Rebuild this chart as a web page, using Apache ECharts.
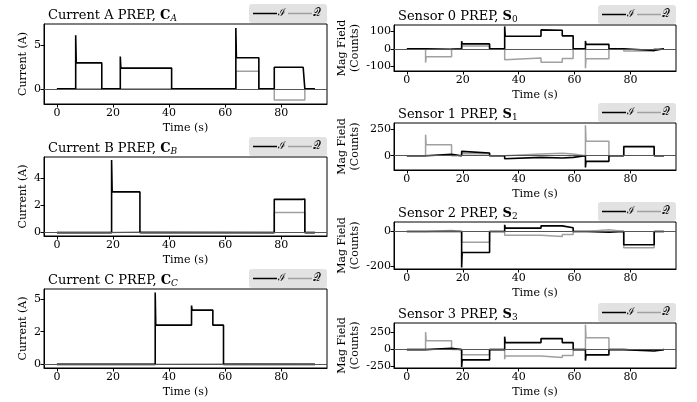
<!DOCTYPE html>
<html>
<head>
<meta charset="utf-8">
<script src="https://cdn.jsdelivr.net/npm/echarts@6/dist/echarts.min.js"></script>
<style>
html, body { margin: 0; padding: 0; background: #fff; }
#main { width: 697px; height: 402px; }
</style>
</head>
<body>
<div id="main"></div>
<script>
// shared time axis
var timeTicks = [0, 20, 40, 60, 80];
var timeRange = [-4.6, 96.3];

// Current A (A), [t, value] corner points
var curA_I = [[0,0],[6.7,0],[6.7,6.2],[6.9,3.0],[16,3.0],[16,0],[22.6,0],[22.6,3.75],[22.8,2.4],[40.9,2.4],[40.9,0],[63.8,0],[63.8,7.05],[64.0,3.6],[72,3.6],[72,0],[77.5,0],[77.5,2.5],[87.8,2.5],[88,2.56],[88.4,2.5],[88.4,0],[92,0]];
var curA_Q = [[0,0],[63.8,0],[63.8,2.05],[72,2.05],[72,0],[77.5,0],[77.5,-1.3],[88.4,-1.3],[88.4,0],[92,0]];
var curA_ticks = [0, 5];

// Current B
var curB_I = [[0,0],[19.5,0],[19.5,5.35],[19.7,3.0],[29.6,3.0],[29.6,0],[77.5,0],[77.5,2.45],[87.5,2.45],[87.7,2.55],[88.4,2.47],[88.4,0],[92,0]];
var curB_Q = [[0,0],[19.5,0],[19.5,0.05],[29.6,0.05],[29.6,0],[77.5,0],[77.5,1.48],[88.4,1.48],[88.4,0],[92,0]];
var curB_ticks = [0, 2, 4];

// Current C
var curC_I = [[0,0],[35.05,0],[35.05,5.5],[35.25,3.0],[48,3.0],[48,4.5],[48.2,4.15],[55.6,4.15],[55.6,3.0],[59.4,3.0],[59.4,0],[92,0]];
var curC_Q = [[0,0],[35,0],[35,0.03],[59.4,0.03],[59.4,0],[92,0]];
var curC_ticks = [0, 2.5, 5];

// Sensor 0 (counts)
var s0_I = [[0,0],[6.7,0],[6.7,-3],[16,-3],[16,0],[19.6,0],[19.6,43],[19.8,28],[29.6,28],[29.6,0],[35,0],[35,128],[35.2,72],[48,72],[48,108],[48.2,106],[55.6,106],[55.6,74],[59.5,74],[59.5,0],[63.9,0],[63.9,45],[64.1,25],[72.3,25],[72.3,0],[77.6,0],[77.6,-10],[88.5,-10],[88.5,0],[92,0]];
var s0_Q = [[0,0],[6.7,0],[6.7,-79],[6.9,-45],[16,-45],[16,0],[19.6,0],[19.6,16],[29.6,16],[29.6,0],[35,0],[35,-62],[35.2,-53],[48,-53],[48,-77],[55.6,-77],[55.6,-55],[59.5,-55],[59.5,0],[63.9,0],[63.9,-111],[64.1,-57],[72.3,-57],[72.3,0],[77.6,0],[77.6,-12],[88.5,-12],[88.5,0],[92,0]];
var s0_ticks = [-100, 0, 100];

// Sensor 1
var s1_I = [[0,0],[6.7,0],[6.7,12],[16,12],[16,0],[19.6,0],[19.6,40],[19.8,25],[29.6,25],[29.6,0],[35,0],[35,-28],[35.2,-16],[48,-16],[48,-22],[55.6,-22],[55.6,-16],[59.5,-16],[59.5,0],[63.9,0],[63.9,-110],[64.1,-53],[72.3,-53],[72.3,0],[77.6,0],[77.6,84],[88.5,84],[88.5,0],[92,0]];
var s1_Q = [[0,0],[6.7,0],[6.7,197],[6.9,103],[16,103],[16,0],[19.6,0],[19.6,19],[29.6,19],[29.6,0],[35,0],[35,16],[48,16],[48,22],[55.6,22],[55.6,16],[59.5,16],[59.5,0],[63.9,0],[63.9,284],[64.1,134],[72.3,134],[72.3,0],[77.6,0],[77.6,91],[88.5,91],[88.5,0],[92,0]];
var s1_ticks = [0, 250];

// Sensor 2
var s2_I = [[0,0],[19.6,0],[19.6,-205],[19.8,-120],[29.6,-120],[29.6,0],[35,0],[35,38],[35.2,19],[48,19],[48,32],[55.6,32],[55.6,21],[59.5,21],[59.5,0],[63.9,0],[63.9,-4],[72.3,-4],[72.3,0],[77.6,0],[77.6,-76],[88.5,-76],[88.5,0],[92,0]];
var s2_Q = [[0,0],[6.7,0],[6.7,6],[16,6],[16,0],[19.6,0],[19.6,-61],[29.6,-61],[29.6,0],[35,0],[35,-21],[48,-21],[48,-29],[55.6,-29],[55.6,-17],[59.5,-17],[59.5,0],[63.9,0],[63.9,10],[72.3,10],[72.3,0],[77.6,0],[77.6,-93],[88.5,-93],[88.5,0],[92,0]];
var s2_ticks = [-200, 0];

// Sensor 3
var s3_I = [[0,0],[6.7,0],[6.7,20],[16,20],[16,0],[19.6,0],[19.6,-255],[19.8,-152],[29.6,-152],[29.6,0],[35,0],[35,191],[35.2,103],[48,103],[48,162],[55.6,162],[55.6,103],[59.5,103],[59.5,0],[63.9,0],[63.9,-162],[64.1,-78],[72.3,-78],[72.3,0],[77.6,0],[77.6,-20],[88.5,-20],[88.5,0],[92,0]];
var s3_Q = [[0,0],[6.7,0],[6.7,260],[6.9,132],[16,132],[16,0],[19.6,0],[19.6,-74],[29.6,-74],[29.6,0],[35,0],[35,-142],[35.2,-93],[48,-93],[48,-118],[55.6,-118],[55.6,-88],[59.5,-88],[59.5,0],[63.9,0],[63.9,368],[64.1,176],[72.3,176],[72.3,0],[77.6,0],[77.6,-15],[88.5,-15],[88.5,0],[92,0]];
var s3_ticks = [-250, 0, 250];

var nameI = 'ℐ', nameQ = '𝒬';
var colI = '#000', colQ = '#a0a0a0';

var panels = [
  { head: 'Current A PREP, ', sym: 'C', sub: 'A', yName: 'Current (A)', I: curA_I, Q: curA_Q, ticks: curA_ticks, yr: [-1.75, 7.5],  box: [44, 24, 283, 80] },
  { head: 'Current B PREP, ', sym: 'C', sub: 'B', yName: 'Current (A)', I: curB_I, Q: curB_Q, ticks: curB_ticks, yr: [-0.25, 5.57], box: [44, 157, 283, 79] },
  { head: 'Current C PREP, ', sym: 'C', sub: 'C', yName: 'Current (A)', I: curC_I, Q: curC_Q, ticks: curC_ticks, yr: [-0.28, 5.77], box: [44, 289, 283, 79] },
  { head: 'Sensor 0 PREP, ', sym: 'S', sub: '0', yName: 'Mag Field\n(Counts)', I: s0_I, Q: s0_Q, ticks: s0_ticks, yr: [-127, 136], box: [394, 25, 282, 46] },
  { head: 'Sensor 1 PREP, ', sym: 'S', sub: '1', yName: 'Mag Field\n(Counts)', I: s1_I, Q: s1_Q, ticks: s1_ticks, yr: [-134, 306], box: [394, 123, 282, 47] },
  { head: 'Sensor 2 PREP, ', sym: 'S', sub: '2', yName: 'Mag Field\n(Counts)', I: s2_I, Q: s2_Q, ticks: s2_ticks, yr: [-214, 54], box: [394, 222, 282, 47] },
  { head: 'Sensor 3 PREP, ', sym: 'S', sub: '3', yName: 'Mag Field\n(Counts)', I: s3_I, Q: s3_Q, ticks: s3_ticks, yr: [-271, 392], box: [394, 323, 282, 45] }
];

var FONT = 'DejaVu Serif';
var grids = [], xAxes = [], yAxes = [], series = [], titles = [], legends = [];

panels.forEach(function (p, i) {
  var l = p.box[0], t = p.box[1], w = p.box[2], h = p.box[3];
  var right = 697 - l - w;
  var isSensor = i >= 3;
  grids.push({ left: l, top: t, width: w, height: h, show: true, borderColor: '#000', borderWidth: 1, backgroundColor: 'transparent' });
  xAxes.push({
    type: 'value', gridIndex: i, min: timeRange[0], max: timeRange[1],
    name: 'Time (s)', nameLocation: 'middle', nameGap: 19,
    nameTextStyle: { fontFamily: FONT, fontSize: 11, color: '#000' },
    axisLine: { show: true, onZero: false, lineStyle: { color: '#000', width: 1 } },
    splitLine: { show: false },
    axisTick: { show: true, length: 3.5, lineStyle: { color: '#000' }, customValues: timeTicks },
    axisLabel: { fontFamily: FONT, fontSize: 11, color: '#000', margin: 4, customValues: timeTicks }
  });
  yAxes.push({
    type: 'value', gridIndex: i, min: p.yr[0], max: p.yr[1],
    name: p.yName, nameLocation: 'middle', nameGap: isSensor ? 32 : 14, nameRotate: 90,
    nameTextStyle: { fontFamily: FONT, fontSize: 11, color: '#000', lineHeight: 13 },
    axisLine: { show: true, onZero: false, lineStyle: { color: '#000', width: 1 } },
    splitLine: { show: false },
    axisTick: { show: true, length: 3.5, lineStyle: { color: '#000' }, customValues: p.ticks },
    axisLabel: { fontFamily: FONT, fontSize: 11, color: '#000', margin: 3, customValues: p.ticks,
      formatter: function (v) { return String(Math.trunc(v)); } }
  });
  series.push({
    name: nameQ, type: 'line', xAxisIndex: i, yAxisIndex: i, data: p.Q,
    symbol: 'none', silent: true, animation: false,
    lineStyle: { color: colQ, width: 1.5 }, itemStyle: { color: colQ },
    markLine: { silent: true, symbol: 'none', label: { show: false }, animation: false,
      lineStyle: { color: '#555', width: 1, type: 'solid' }, data: [{ yAxis: 0 }] }
  });
  series.push({
    name: nameI, type: 'line', xAxisIndex: i, yAxisIndex: i, data: p.I,
    symbol: 'none', silent: true, animation: false,
    lineStyle: { color: colI, width: 1.6 }, itemStyle: { color: colI }
  });
  titles.push({
    left: l - 1, top: t - 21,
    text: '{n|' + p.head + '}{b|' + p.sym + '}{s|' + p.sub + '}',
    textStyle: {
      fontWeight: 'normal',
      rich: {
        n: { fontFamily: FONT, fontSize: 13, fontWeight: 'normal', color: '#000' },
        b: { fontFamily: FONT, fontSize: 13, fontWeight: 'bold', color: '#000' },
        s: { fontFamily: FONT, fontSize: 9, fontWeight: 'normal', color: '#000', fontStyle: isSensor ? 'normal' : 'italic', padding: [6, 0, 0, 0] }
      }
    }
  });
  legends.push({
    right: right, top: t - 20, orient: 'horizontal',
    data: [{ name: nameI, icon: 'rect', itemStyle: { color: colI } }, { name: nameQ, icon: 'rect', itemStyle: { color: colQ } }],
    backgroundColor: '#e2e2e2', borderRadius: 3, padding: [4, 6, 4, 4],
    itemWidth: 24, itemHeight: 1.5, itemGap: 2, selectedMode: false,
    textStyle: { fontFamily: FONT, fontSize: 10.5, color: '#000', padding: [0, 0, 0, -4] }
  });
});

var chart = echarts.init(document.getElementById('main'), null, { renderer: 'canvas' });
chart.setOption({
  animation: false,
  backgroundColor: '#fff',
  title: titles,
  legend: legends,
  grid: grids,
  xAxis: xAxes,
  yAxis: yAxes,
  series: series
});
</script>
</body>
</html>
